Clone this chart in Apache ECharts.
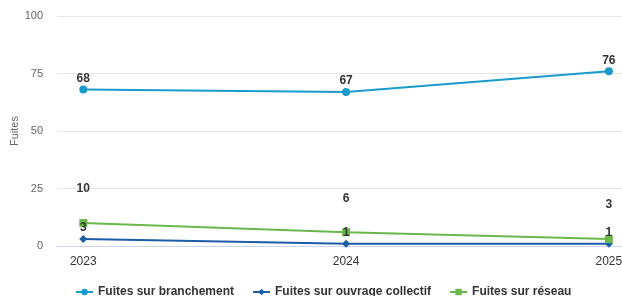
<!DOCTYPE html>
<html>
<head>
<meta charset="utf-8">
<script src="https://cdn.jsdelivr.net/npm/echarts@6/dist/echarts.min.js"></script>
<style>
  html, body { margin: 0; padding: 0; background: #fff; }
  #chart { width: 622px; height: 296px; }
</style>
</head>
<body>
<div id="chart"></div>
<script>
// données
const annees = [2023, 2024, 2025];
const branchement = [68, 67, 76];
const ouvrageCollectif = [3, 1, 1];
const reseau = [10, 6, 3];
const yTicks = [0, 25, 50, 75, 100];

const police = 'Liberation Sans, Arial, sans-serif';
const chart = echarts.init(document.getElementById('chart'));

function serie(nom, valeurs, couleur, symbole, taille, distance) {
  return {
    name: nom,
    type: 'line',
    data: annees.map((a, i) => [a, valeurs[i]]),
    symbol: symbole,
    symbolSize: taille,
    showAllSymbol: true,
    color: couleur,
    lineStyle: { width: 2, color: couleur },
    itemStyle: { color: couleur },
    label: {
      show: true,
      position: 'top',
      distance: distance,
      formatter: p => p.value[1],
      color: '#333',
      fontWeight: 'bold',
      fontSize: 12,
      fontFamily: police
    },
    emphasis: { disabled: true },
    animation: false
  };
}

const option = {
  textStyle: { fontFamily: police },
  grid: { left: 57, right: 0, top: 16, bottom: 50, outerBoundsMode: 'none', containLabel: false },
  xAxis: {
    type: 'value',
    min: 2022.9,
    max: 2025.05,
    splitLine: { show: false },
    axisTick: { show: false },
    axisLine: { show: true, lineStyle: { color: '#ccd6eb', width: 1 } },
    axisLabel: {
      customValues: annees,
      formatter: v => String(v),
      color: '#333',
      fontSize: 12,
      margin: 10,
      fontFamily: police
    }
  },
  yAxis: {
    type: 'value',
    min: yTicks[0],
    max: yTicks[yTicks.length - 1],
    interval: 25,
    name: 'Fuites',
    nameLocation: 'middle',
    nameGap: 37,
    nameRotate: 90,
    nameMoveOverlap: false,
    nameTextStyle: { color: '#666', fontSize: 11, fontFamily: police },
    axisLine: { show: false },
    axisTick: { show: false },
    axisLabel: { color: '#666', fontSize: 11, margin: 14, fontFamily: police },
    splitLine: { lineStyle: { color: '#e6e6e6', width: 1 } }
  },
  legend: {
    bottom: -7,
    left: 70,
    itemGap: 18,
    itemWidth: 17,
    itemHeight: 8,
    textStyle: { color: '#333', fontWeight: 'bold', fontSize: 12, fontFamily: police },
    data: ['Fuites sur branchement', 'Fuites sur ouvrage collectif', 'Fuites sur réseau']
  },
  series: [
    serie('Fuites sur branchement', branchement, '#1a9bcb', 'circle', 8, 1),
    serie('Fuites sur ouvrage collectif', ouvrageCollectif, '#1c5ca8', 'diamond', 8, 1),
    serie('Fuites sur réseau', reseau, '#6ab84b', 'rect', 8, 24)
  ]
};

chart.setOption(option);
</script>
</body>
</html>
